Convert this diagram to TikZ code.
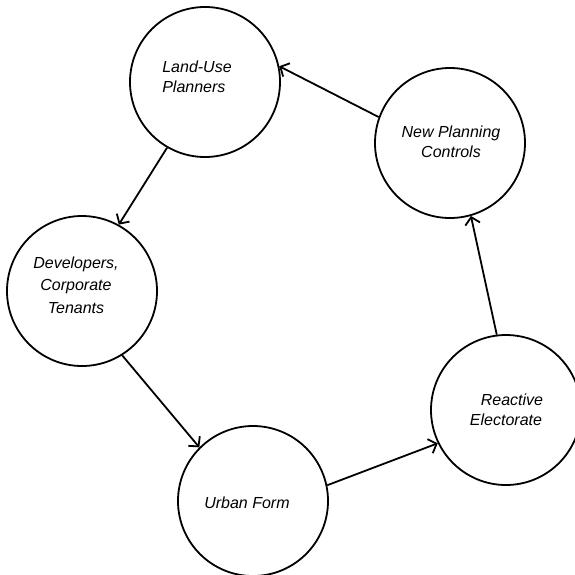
\documentclass[tikz,border=0pt]{standalone}
\usepackage{fontspec}
\setmainfont{Liberation Sans}
\usetikzlibrary{arrows.meta}
\begin{document}
\begin{tikzpicture}[x=1pt,y=-1pt,
  bubble/.style={circle,draw,line width=1.8pt,minimum size=150pt,inner sep=0pt},
  lbl/.style={font=\fontsize{16}{20}\selectfont\itshape,align=center,inner sep=0pt},
  flow/.style={line width=1.8pt,-{Straight Barb[length=7pt,width=15pt]}}]
\useasboundingbox (0,0) rectangle (575,574);
\node[bubble] (lup) at (205,82) {};
\node[bubble] (npc) at (450,143) {};
\node[bubble] (dev) at (82,291) {};
\node[bubble] (uf) at (253,501) {};
\node[bubble] (re) at (506,410) {};
\node[lbl,align=left] (tlup) at (197,77) {Land-Use\\Planners};
\node[lbl] (tnpc) at (451,142) {New Planning\\Controls};
\node[lbl,font=\fontsize{16}{22.5}\selectfont\itshape] (tdev) at (76,285) {Developers,\\Corporate\\Tenants};
\node[lbl] (tuf) at (247,503) {Urban Form};
\node[lbl] (tre) at (506,410) {\hspace*{12pt}Reactive\\Electorate};
\draw[flow] (npc.160) -- (lup.12);
\draw[flow] (lup.240) -- (dev.61);
\draw[flow] (dev.302) -- (uf.135);
\draw[flow] (uf.12) -- (re.206);
\draw[flow] (re.97) -- (npc.286);
\end{tikzpicture}
\end{document}
